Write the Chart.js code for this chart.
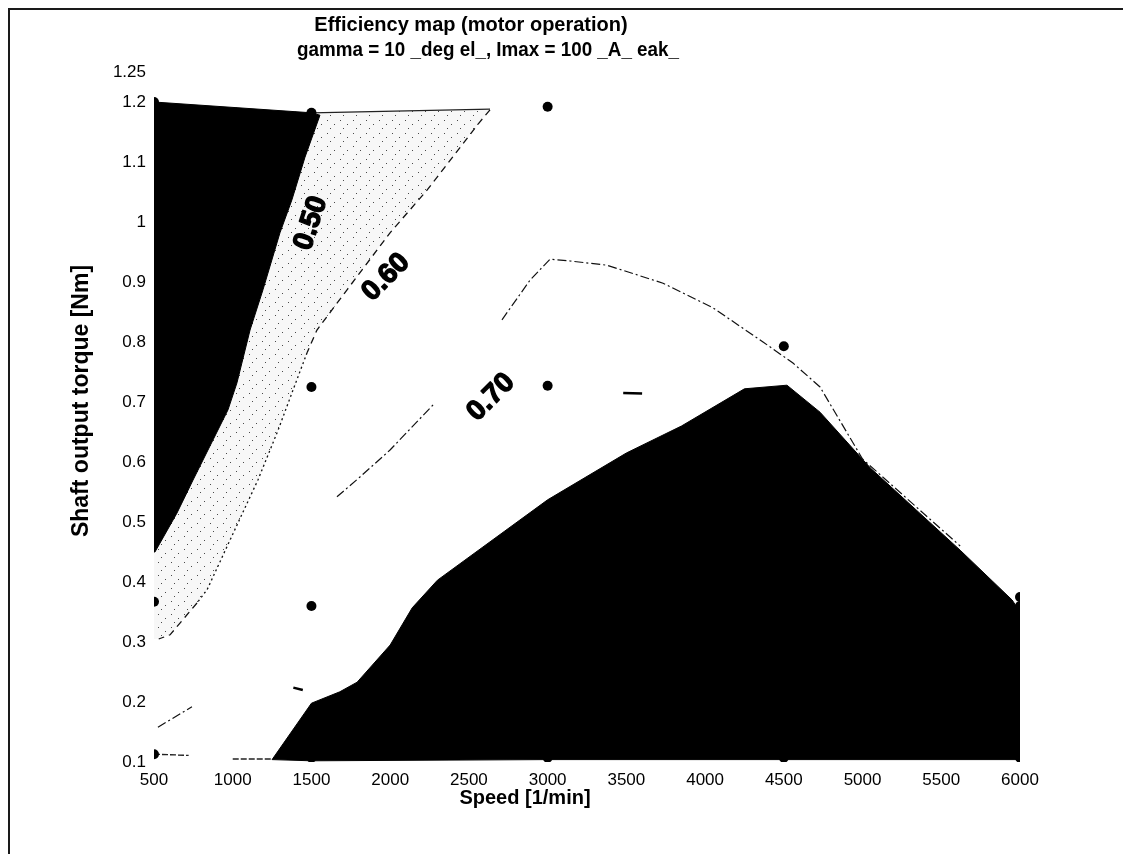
<!DOCTYPE html>
<html>
<head>
<meta charset="utf-8">
<script src="https://cdn.jsdelivr.net/npm/chart.js@4/dist/chart.umd.min.js"></script>
<style>
  html, body { margin: 0; padding: 0; background: #fff; }
  #wrap { position: absolute; left: 0; top: 0; width: 1123px; height: 854px; overflow: hidden; }
  #frame { position: absolute; left: 8px; top: 8px; width: 1130px; height: 860px;
           border-top: 2px solid #1a1a1a; border-left: 2px solid #1a1a1a; }
  canvas { position: absolute; left: 0; top: 0; }
</style>
</head>
<body>
<div id="wrap">
  <canvas id="map" width="1123" height="854"></canvas>
  <div id="frame"></div>
</div>
<script>
// ---- axes ----
const speedTicks  = [500, 1000, 1500, 2000, 2500, 3000, 3500, 4000, 4500, 5000, 5500, 6000];
const torqueTicks = [0.1, 0.2, 0.3, 0.4, 0.5, 0.6, 0.7, 0.8, 0.9, 1, 1.1, 1.2, 1.25];

// ---- measured operating points ----
const pointSpeed  = [500, 1500, 3000, 500, 1500, 3000, 4500, 500, 1500, 500, 1500, 3000, 4500, 6000, 6000, 6000, 6000];
const pointTorque = [1.2, 1.182, 1.192, 0.737, 0.725, 0.727, 0.793, 0.367, 0.36, 0.113, 0.107, 0.107, 0.107, 0.107, 0.375, 0.36, 0.348];

// ---- efficiency below 0.50 (upper left) ----
const lowSpeed  = [500, 1500, 1554, 1459, 1376, 1300, 1192, 1110, 1027, 970, 748, 646, 506, 500, 500];
const lowTorque = [1.2, 1.182, 1.178, 1.108, 1.037, 0.982, 0.887, 0.82, 0.732, 0.687, 0.57, 0.515, 0.45, 0.45, 1.2];

// ---- efficiency 0.50 .. 0.60 band ----
const bandSpeed  = [500, 1500, 2634, 2570, 2234, 1999, 1726, 1535, 1472, 1383, 1288, 1160, 983, 837, 773, 602, 530, 500, 500];
const bandTorque = [1.2, 1.182, 1.187, 1.167, 1.053, 0.982, 0.887, 0.82, 0.782, 0.72, 0.653, 0.57, 0.47, 0.387, 0.365, 0.312, 0.306, 0.305, 1.2];

// ---- efficiency above 0.80 (lower right) ----
const highSpeed  = [1250, 1500, 1680, 1790, 2000, 2140, 2300, 3000, 3500, 3850, 4250, 4520, 4730, 5050, 5620, 5950, 6000, 6000, 4500, 3000, 1500, 1250];
const highTorque = [0.104, 0.198, 0.217, 0.233, 0.295, 0.357, 0.403, 0.537, 0.615, 0.66, 0.722, 0.728, 0.683, 0.59, 0.453, 0.37, 0.35, 0.104, 0.104, 0.104, 0.102, 0.104];

// ---- iso-efficiency lines ----
const c60Speed  = [2634, 2570, 2234, 1999, 1726, 1535, 1472, 1383, 1288, 1160, 983, 837, 773, 602, 530];
const c60Torque = [1.187, 1.167, 1.053, 0.982, 0.887, 0.82, 0.782, 0.72, 0.653, 0.57, 0.47, 0.387, 0.365, 0.312, 0.305];

const c70Speed  = [525, 741, null, 1662, 1808, 1999, 2272, null, 2710, 2888, 3015, 3142, 3377, 3733, 4050, 4368, 4558, 4730, 5000, 5470, 5620];
const c70Torque = [0.158, 0.192, null, 0.542, 0.575, 0.62, 0.695, null, 0.837, 0.903, 0.938, 0.935, 0.928, 0.898, 0.857, 0.8, 0.765, 0.725, 0.605, 0.495, 0.46];

const c80Speed  = [1385, 1445, null, 3480, 3600];
const c80Torque = [0.224, 0.22, null, 0.715, 0.714];

// ---- operating envelope edges ----
const edgeSpeed  = [1500, 2634, null, 500, 720, null, 1000, 1250];
const edgeTorque = [1.182, 1.188, null, 0.113, 0.111, null, 0.105, 0.105];

// ---- contour labels ----
const contourLevels = ['0.50', '0.60', '0.70'];
const labelSpeed    = [1497, 1974, 2640];
const labelTorque   = [0.998, 0.908, 0.708];
const labelAngle    = [-72, -45, -45];

// ---- texts ----
const titleLines = ['Efficiency map (motor operation)', 'gamma = 10 _deg el_, Imax = 100 _A_ eak_'];
const xTitle = 'Speed [1/min]';
const yTitle = 'Shaft output torque [Nm]';

const pts = (xs, ys) => xs.map((x, i) => ({ x: x, y: x === null ? null : ys[i] }));

// sparse dithered grey for the 0.50..0.60 band
function speckle() {
  const c = document.createElement('canvas');
  c.width = 13; c.height = 13;
  const g = c.getContext('2d');
  g.fillStyle = '#f7f7f7';
  g.fillRect(0, 0, 13, 13);
  g.fillStyle = '#4a4a4a';
  [[2, 3], [9, 7], [5, 11]].forEach(([a, b]) => g.fillRect(a, b, 1, 1));
  return g.createPattern(c, 'repeat');
}

const FONT = '"Liberation Sans", Arial, Helvetica, sans-serif';

const textLayer = {
  id: 'textLayer',
  afterDatasetsDraw(chart) {
    const { ctx } = chart;
    const x = chart.scales.x, y = chart.scales.y;
    ctx.save();
    ctx.fillStyle = '#000';
    ctx.strokeStyle = '#000';
    ctx.lineWidth = 1.4;
    ctx.lineJoin = 'round';
    ctx.textAlign = 'center';
    ctx.textBaseline = 'middle';
    ctx.font = 'bold 28px ' + FONT;
    contourLevels.forEach((lab, i) => {
      ctx.save();
      ctx.translate(x.getPixelForValue(labelSpeed[i]), y.getPixelForValue(labelTorque[i]));
      ctx.rotate(labelAngle[i] * Math.PI / 180);
      ctx.fillText(lab, 0, 0);
      ctx.strokeText(lab, 0, 0);
      ctx.restore();
    });
    ctx.restore();
  },
  afterDraw(chart) {
    const { ctx } = chart;
    ctx.save();
    ctx.fillStyle = '#000';
    ctx.textAlign = 'center';
    ctx.textBaseline = 'middle';
    ctx.font = 'bold 20px ' + FONT;
    ctx.fillText(titleLines[0], 471, 25);
    ctx.fillText(titleLines[1], 488, 50, 382);
    ctx.fillText(xTitle, 525, 798);
    ctx.font = 'bold 23px ' + FONT;
    ctx.translate(82, 401);
    ctx.rotate(-Math.PI / 2);
    ctx.fillText(yTitle, 0, 0);
    ctx.restore();
  }
};

new Chart(document.getElementById('map'), {
  type: 'line',
  data: {
    datasets: [
      { // measured points
        data: pts(pointSpeed, pointTorque), showLine: false,
        pointRadius: 5, pointBackgroundColor: '#000', pointBorderColor: '#000', pointBorderWidth: 0, order: 0
      },
      { // 0.60 line
        data: pts(c60Speed, c60Torque), borderColor: '#111', borderWidth: 1.3, pointRadius: 0, fill: false, order: 1,
        segment: { borderDash: c => (c.p0.parsed.y < 0.79 && c.p0.parsed.y > 0.37) ? [2, 3] : [7, 5] }
      },
      { // 0.70 line
        data: pts(c70Speed, c70Torque), borderColor: '#111', borderWidth: 1.2, pointRadius: 0, fill: false,
        spanGaps: false, borderDash: [9, 3, 2, 3], order: 1
      },
      { // 0.80 fragments
        data: pts(c80Speed, c80Torque), borderColor: '#000', borderWidth: 2.5, pointRadius: 0, fill: false,
        spanGaps: false, order: 1
      },
      { // envelope edges
        data: pts(edgeSpeed, edgeTorque), borderColor: '#222', borderWidth: 1.3, pointRadius: 0, fill: false,
        spanGaps: false, order: 1,
        segment: { borderDash: c => c.p0.parsed.y > 1 ? [] : [6, 2] }
      },
      { // eff < 0.50
        data: pts(lowSpeed, lowTorque), borderColor: '#000', borderWidth: 1, backgroundColor: '#000',
        pointRadius: 0, fill: 'shape', order: 2
      },
      { // eff > 0.80
        data: pts(highSpeed, highTorque), borderColor: '#000', borderWidth: 1, backgroundColor: '#000',
        pointRadius: 0, fill: 'shape', order: 2
      },
      { // 0.50 .. 0.60 band
        data: pts(bandSpeed, bandTorque), borderColor: 'rgba(0,0,0,0)', borderWidth: 0, backgroundColor: speckle(),
        pointRadius: 0, fill: 'shape', order: 3
      }
    ]
  },
  options: {
    responsive: false,
    animation: false,
    devicePixelRatio: 1,
    tension: 0,
    layout: { padding: { left: 0, top: 72, right: 103, bottom: 0 } },
    plugins: { legend: { display: false }, tooltip: { enabled: false }, title: { display: false } },
    scales: {
      x: {
        type: 'linear', min: 500, max: 6000,
        afterBuildTicks: s => { s.ticks = speedTicks.map(v => ({ value: v })); },
        afterFit: s => { s.height = 92; },
        grid: { display: false, drawTicks: false }, border: { display: false },
        ticks: { color: '#000', font: { family: FONT, size: 17 }, padding: 8, maxRotation: 0, autoSkip: false,
                 callback: v => String(v) }
      },
      y: {
        type: 'linear', min: 0.1, max: 1.25,
        afterBuildTicks: s => { s.ticks = torqueTicks.map(v => ({ value: v })); },
        afterFit: s => { s.width = 154; },
        grid: { display: false, drawTicks: false }, border: { display: false },
        ticks: { color: '#000', font: { family: FONT, size: 17 }, padding: 8, autoSkip: false,
                 callback: v => String(v) }
      }
    }
  },
  plugins: [textLayer]
});
</script>
</body>
</html>
